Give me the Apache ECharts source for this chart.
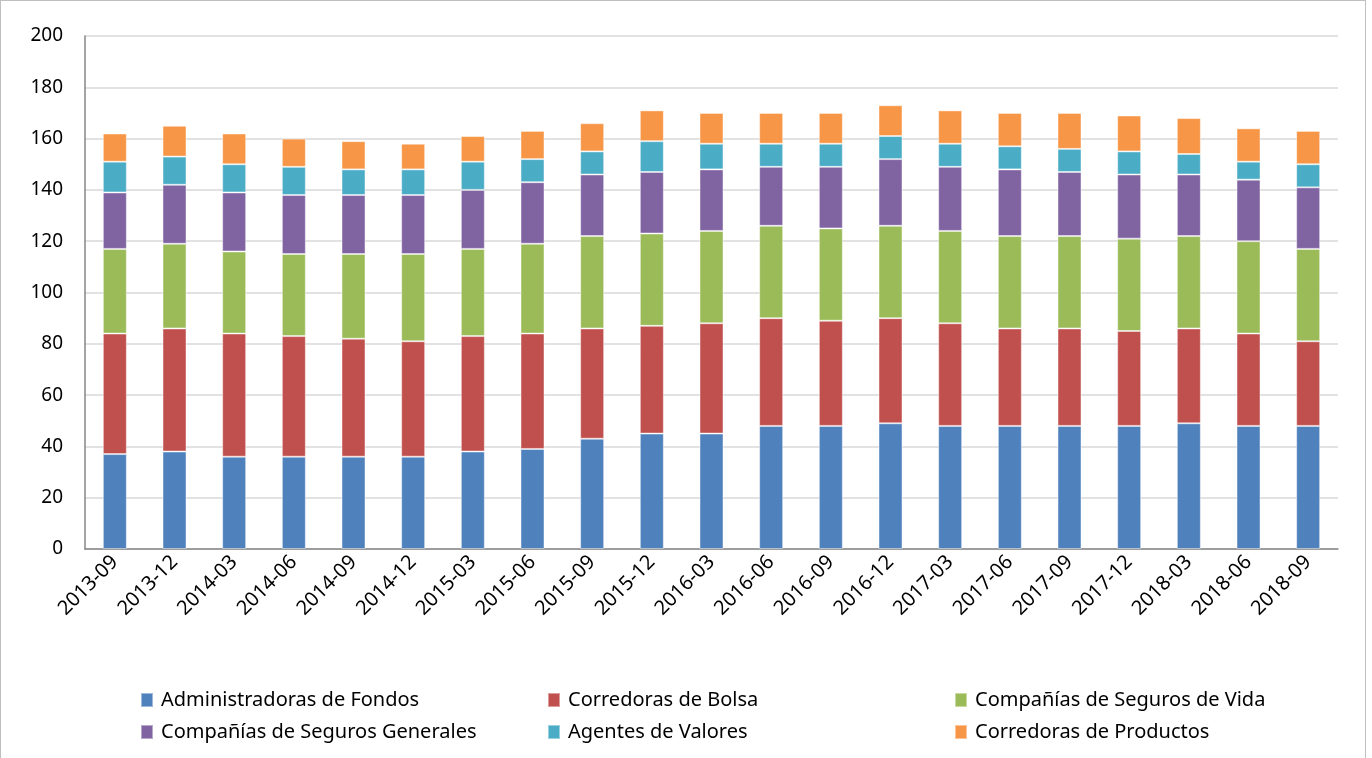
<!DOCTYPE html>
<html>
<head>
<meta charset="utf-8">
<script src="https://cdn.jsdelivr.net/npm/echarts@6/dist/echarts.min.js"></script>
<style>
  html, body { margin: 0; padding: 0; background: #fff; }
  #chart { position: absolute; left: 0; top: 0; width: 1366px; height: 758px; border: 1px solid #bfbfbf; box-sizing: border-box; border-bottom: none; }
</style>
</head>
<body>
<div id="chart"></div>
<script>
const periods = ['2013-09', '2013-12', '2014-03', '2014-06', '2014-09', '2014-12', '2015-03',
  '2015-06', '2015-09', '2015-12', '2016-03', '2016-06', '2016-09', '2016-12', '2017-03',
  '2017-06', '2017-09', '2017-12', '2018-03', '2018-06', '2018-09']

const administradoras = [37, 38, 36, 36, 36, 36, 38, 39, 43, 45, 45, 48, 48, 49, 48, 48, 48, 48, 49, 48, 48]
const corredorasBolsa = [47, 48, 48, 47, 46, 45, 45, 45, 43, 42, 43, 42, 41, 41, 40, 38, 38, 37, 37, 36, 33]
const segurosVida = [33, 33, 32, 32, 33, 34, 34, 35, 36, 36, 36, 36, 36, 36, 36, 36, 36, 36, 36, 36, 36]
const segurosGenerales = [22, 23, 23, 23, 23, 23, 23, 24, 24, 24, 24, 23, 24, 26, 25, 26, 25, 25, 24, 24, 24]
const agentesValores = [12, 11, 11, 11, 10, 10, 11, 9, 9, 12, 10, 9, 9, 9, 9, 9, 9, 9, 8, 7, 9]
const corredorasProductos = [11, 12, 12, 11, 11, 10, 10, 11, 11, 12, 12, 12, 12, 12, 13, 13, 14, 14, 14, 13, 13]

const yTicks = { min: 0, max: 200, interval: 20 }

const seriesDefs = [
  { name: 'Administradoras de Fondos', data: administradoras, color: '#4f81bd' },
  { name: 'Corredoras de Bolsa', data: corredorasBolsa, color: '#c0504d' },
  { name: 'Compañías de Seguros de Vida', data: segurosVida, color: '#9bbb59' },
  { name: 'Compañías de Seguros Generales', data: segurosGenerales, color: '#8064a2' },
  { name: 'Agentes de Valores', data: agentesValores, color: '#4bacc6' },
  { name: 'Corredoras de Productos', data: corredorasProductos, color: '#f79646' },
]

const chart = echarts.init(document.getElementById('chart'))

const font = 'Noto Sans'
const legendBase = {
  orient: 'vertical',
  itemWidth: 12,
  itemHeight: 14,
  itemGap: 12,
  icon: 'rect',
  textStyle: { fontFamily: font, fontSize: 20, color: '#000', padding: [0, 0, 0, 3] },
}

const option = {
  animation: false,
  textStyle: { fontFamily: font },
  legend: [
    { ...legendBase, left: 134, top: 684, data: [seriesDefs[0].name, seriesDefs[3].name] },
    { ...legendBase, left: 541, top: 684, data: [seriesDefs[1].name, seriesDefs[4].name] },
    { ...legendBase, left: 948, top: 684, data: [seriesDefs[2].name, seriesDefs[5].name] },
  ],
  grid: { left: 84, right: 27, top: 35, bottom: 209 },
  xAxis: {
    type: 'category',
    data: periods,
    axisTick: { show: false },
    axisLine: { lineStyle: { color: '#868686', width: 1.5 } },
    axisLabel: { rotate: 45, fontSize: 20, color: '#000', margin: 10, interval: 0 },
  },
  yAxis: {
    type: 'value',
    min: yTicks.min,
    max: yTicks.max,
    interval: yTicks.interval,
    axisLine: { show: true, lineStyle: { color: '#868686', width: 1.5 } },
    axisTick: { show: false },
    axisLabel: { fontSize: 19, color: '#000', margin: 22 },
    splitLine: { lineStyle: { color: '#d9d9d9', width: 1.5 } },
  },
  series: seriesDefs.map((s) => ({
    name: s.name,
    type: 'bar',
    stack: 'total',
    barWidth: 24,
    itemStyle: { color: s.color, borderColor: 'rgba(255,255,255,0.45)', borderWidth: 1 },
    data: s.data,
  })),
}

chart.setOption(option)
</script>
</body>
</html>
